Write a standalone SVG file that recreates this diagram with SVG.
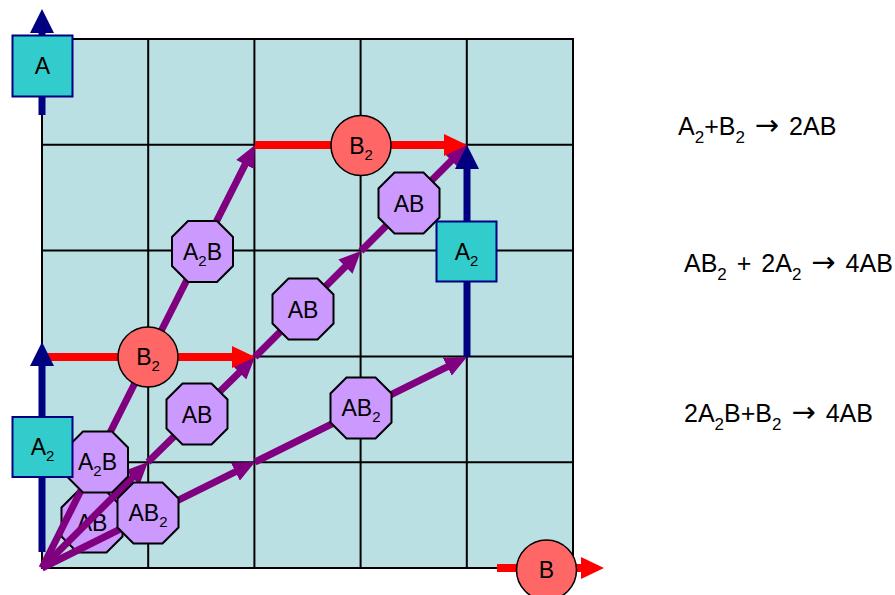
<svg xmlns="http://www.w3.org/2000/svg" xmlns:xlink="http://www.w3.org/1999/xlink" width="895" height="595" viewBox="0 0 895 595">
<style>
  text { font-family: "Liberation Sans", Arial, sans-serif; font-size: 23px; fill: #000; }
  .lbl { text-anchor: middle; }
  .sub { font-size: 15px; }
  .eq { font-size: 25px; word-spacing: 3px; }
  .esub { font-size: 17px; }
  .arr { font-family: "DejaVu Sans", sans-serif; font-size: 29px; }
  .gl { stroke: #000; stroke-width: 2; }
  .pur { stroke: #800080; stroke-width: 7; fill: none; marker-end: url(#mp); }
  .red { stroke: #FF0000; stroke-width: 8; fill: none; marker-end: url(#mr); }
  .nav { stroke: #000080; stroke-width: 7; fill: none; marker-end: url(#mn); }
  .circ { fill: #FF6666; stroke: #000; stroke-width: 1.5; }
  .sq { fill: #33CCCC; stroke: #000080; stroke-width: 2; }
</style>
<defs>
  <marker id="mp" markerUnits="userSpaceOnUse" markerWidth="22" markerHeight="20" refX="10" refY="10" orient="auto">
    <path d="M0,0 L22,10 L0,20 z" fill="#800080"/>
  </marker>
  <marker id="mr" markerUnits="userSpaceOnUse" markerWidth="23" markerHeight="22" refX="11" refY="11" orient="auto">
    <path d="M0,0 L23,11 L0,22 z" fill="#FF0000"/>
  </marker>
  <marker id="mn" markerUnits="userSpaceOnUse" markerWidth="24" markerHeight="24" refX="12" refY="12" orient="auto">
    <path d="M0,0 L24,12 L0,24 z" fill="#000080"/>
  </marker>
  <polygon id="oct" points="-14.5,-30.5 14.5,-30.5 30.5,-14.5 30.5,14.5 14.5,30.5 -14.5,30.5 -30.5,14.5 -30.5,-14.5" fill="#CC99FF" stroke="#000" stroke-width="2"/>
</defs>

<g id="grid">
  <rect x="42" y="39" width="531" height="529" fill="#BBE0E3" stroke="#000" stroke-width="2"/>
  <line class="gl" x1="148.2" y1="39" x2="148.2" y2="568"/>
  <line class="gl" x1="254.4" y1="39" x2="254.4" y2="568"/>
  <line class="gl" x1="360.6" y1="39" x2="360.6" y2="568"/>
  <line class="gl" x1="466.8" y1="39" x2="466.8" y2="568"/>
  <line class="gl" x1="42" y1="144.8" x2="573" y2="144.8"/>
  <line class="gl" x1="42" y1="250.6" x2="573" y2="250.6"/>
  <line class="gl" x1="42" y1="356.4" x2="573" y2="356.4"/>
  <line class="gl" x1="42" y1="462.2" x2="573" y2="462.2"/>
</g>

<g id="n-ab-low">
  <use xlink:href="#oct" x="92" y="522"/>
  <text class="lbl" x="92" y="531">AB</text>
</g>

<g id="connectors">
  <line class="pur" x1="42" y1="568" x2="142.6" y2="367.7"/>
  <line class="pur" x1="148" y1="357" x2="249.6" y2="155.7"/>
  <line class="pur" x1="42" y1="568" x2="139.5" y2="470.5"/>
  <line class="pur" x1="148" y1="462" x2="246.4" y2="365.4"/>
  <line class="pur" x1="255" y1="357" x2="352.5" y2="259.5"/>
  <line class="pur" x1="361" y1="251" x2="458.5" y2="153.5"/>
  <line class="pur" x1="42" y1="568" x2="244.3" y2="467.3"/>
  <line class="pur" x1="255" y1="462" x2="456.2" y2="362.3"/>
  <line class="red" x1="42" y1="357" x2="243" y2="357"/>
  <line class="red" x1="255" y1="145" x2="455" y2="145"/>
  <line class="red" x1="497" y1="568" x2="592" y2="568"/>
  <line class="nav" x1="42" y1="552" x2="42" y2="354"/>
  <line class="nav" x1="42" y1="115" x2="42" y2="21"/>
  <line class="nav" x1="467" y1="357" x2="467" y2="157"/>
</g>

<g id="n-a2b-low">
  <use xlink:href="#oct" x="97.5" y="462"/>
  <text class="lbl" x="97.5" y="470">A<tspan class="sub" dy="6">2</tspan><tspan dy="-6">B</tspan></text>
</g>
<g id="n-ab2-low">
  <use xlink:href="#oct" x="148" y="513"/>
  <text class="lbl" x="148" y="521">AB<tspan class="sub" dy="6">2</tspan></text>
</g>
<g id="n-ab-2">
  <use xlink:href="#oct" x="197" y="414"/>
  <text class="lbl" x="197" y="423">AB</text>
</g>
<g id="n-a2b-up">
  <use xlink:href="#oct" x="202.5" y="251.5"/>
  <text class="lbl" x="202.5" y="259.5">A<tspan class="sub" dy="6">2</tspan><tspan dy="-6">B</tspan></text>
</g>
<g id="n-ab-3">
  <use xlink:href="#oct" x="303" y="309"/>
  <text class="lbl" x="303" y="318">AB</text>
</g>
<g id="n-ab2-up">
  <use xlink:href="#oct" x="361" y="408"/>
  <text class="lbl" x="361" y="416">AB<tspan class="sub" dy="6">2</tspan></text>
</g>
<g id="n-ab-4">
  <use xlink:href="#oct" x="409" y="203"/>
  <text class="lbl" x="409" y="212">AB</text>
</g>

<g id="n-b2-low">
  <circle class="circ" cx="148" cy="357" r="30"/>
  <text class="lbl" x="148" y="365">B<tspan class="sub" dy="6">2</tspan></text>
</g>
<g id="n-b2-up">
  <circle class="circ" cx="361" cy="145.5" r="30"/>
  <text class="lbl" x="361" y="154">B<tspan class="sub" dy="6">2</tspan></text>
</g>
<g id="n-b">
  <circle class="circ" cx="546.5" cy="570" r="30"/>
  <text class="lbl" x="546.5" y="578">B</text>
</g>

<g id="n-a">
  <rect class="sq" x="12.5" y="35.5" width="60" height="61"/>
  <text class="lbl" x="42.5" y="74">A</text>
</g>
<g id="n-a2-left">
  <rect class="sq" x="12.5" y="417" width="60" height="60"/>
  <text class="lbl" x="42.5" y="455">A<tspan class="sub" dy="6">2</tspan></text>
</g>
<g id="n-a2-right">
  <rect class="sq" x="436.5" y="221.5" width="60" height="60"/>
  <text class="lbl" x="466.5" y="260">A<tspan class="sub" dy="6">2</tspan></text>
</g>

<g id="equations">
  <text class="eq" x="678" y="135">A<tspan class="esub" dy="8">2</tspan><tspan dy="-8">+B</tspan><tspan class="esub" dy="8">2</tspan><tspan dy="-8"> </tspan><tspan class="arr">→</tspan> 2AB</text>
  <text class="eq" x="684" y="272">AB<tspan class="esub" dy="8">2</tspan><tspan dy="-8"> + 2A</tspan><tspan class="esub" dy="8">2</tspan><tspan dy="-8"> </tspan><tspan class="arr">→</tspan> 4AB</text>
  <text class="eq" x="684" y="422">2A<tspan class="esub" dy="8">2</tspan><tspan dy="-8">B+B</tspan><tspan class="esub" dy="8">2</tspan><tspan dy="-8"> </tspan><tspan class="arr">→</tspan> 4AB</text>
</g>
</svg>
